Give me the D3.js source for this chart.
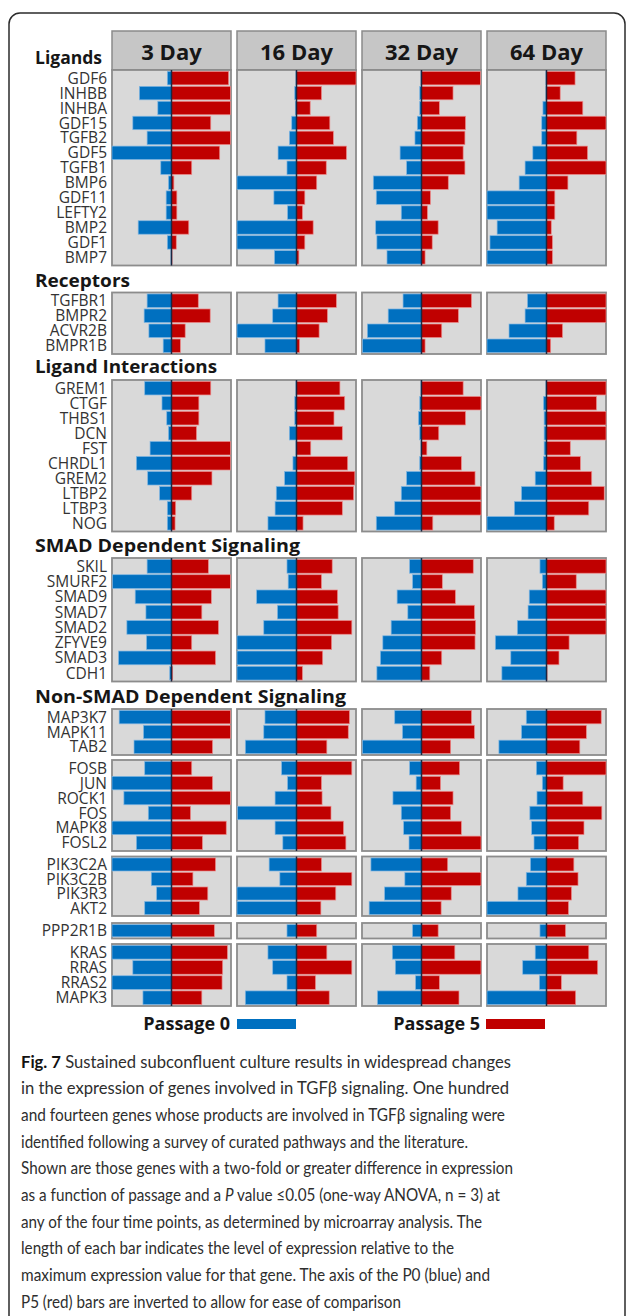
<!DOCTYPE html>
<html>
<head>
<meta charset="utf-8">
<script src="https://cdn.jsdelivr.net/npm/d3@7"></script>
<style>
  html, body { margin: 0; padding: 0; background: #fff; }
  svg { display: block; }
</style>
</head>
<body>
<svg id="chart" width="627" height="1316"></svg>
<script>
// ---- data: relative expression (fraction of the gene's maximum), per time point ----
const days = ["3 Day", "16 Day", "32 Day", "64 Day"];

const ligandGenes = ["GDF6","INHBB","INHBA","GDF15","TGFB2","GDF5","TGFB1","BMP6","GDF11","LEFTY2","BMP2","GDF1","BMP7"];
const ligandP0 = [
  [0.07,0.54,0.23,0.65,0.41,1.00,0.18,0.05,0.09,0.09,0.56,0.07,0.01],
  [0.01,0.03,0.02,0.08,0.12,0.31,0.16,1.00,0.38,0.15,1.00,1.00,0.37],
  [0.01,0.03,0.03,0.07,0.11,0.36,0.25,0.81,0.76,0.34,0.77,0.75,0.58],
  [0.01,0.01,0.06,0.08,0.08,0.23,0.36,0.46,1.00,1.00,0.83,0.95,1.00]
];
const ligandP5 = [
  [0.96,0.99,0.99,0.66,0.99,0.81,0.34,0.04,0.09,0.09,0.29,0.08,0.01],
  [1.00,0.42,0.23,0.56,0.62,0.84,0.50,0.34,0.14,0.10,0.28,0.14,0.04],
  [0.99,0.53,0.30,0.74,0.73,0.70,0.73,0.45,0.15,0.10,0.28,0.18,0.06],
  [0.48,0.23,0.61,1.00,0.51,0.69,1.00,0.36,0.14,0.14,0.08,0.10,0.10]
];

const receptorGenes = ["TGFBR1","BMPR2","ACVR2B","BMPR1B"];
const receptorP0 = [[0.41,0.46,0.38,0.14],[0.31,0.40,1.00,0.53],[0.31,0.56,0.91,0.99],[0.32,0.36,0.63,1.00]];
const receptorP5 = [[0.45,0.65,0.23,0.15],[0.67,0.52,0.38,0.05],[0.84,0.62,0.34,0.06],[1.00,1.00,0.27,0.07]];

const interactionGenes = ["GREM1","CTGF","THBS1","DCN","FST","CHRDL1","GREM2","LTBP2","LTBP3","NOG"];
const interactionP0 = [
  [0.45,0.16,0.08,0.05,0.36,0.59,0.40,0.20,0.07,0.07],
  [0.01,0.03,0.03,0.12,0.01,0.06,0.20,0.34,0.36,0.48],
  [0.01,0.03,0.05,0.03,0.01,0.03,0.25,0.34,0.45,0.76],
  [0.01,0.05,0.04,0.04,0.04,0.05,0.19,0.42,0.54,1.00]
];
const interactionP5 = [
  [0.66,0.46,0.46,0.42,0.99,0.99,0.68,0.34,0.07,0.06],
  [0.73,0.81,0.63,0.77,0.24,0.86,0.98,0.96,0.77,0.11],
  [0.70,1.00,0.74,0.29,0.09,0.67,0.90,1.00,1.00,0.19],
  [1.00,0.84,1.00,1.00,0.40,0.57,0.76,0.97,0.71,0.13]
];

const smadGenes = ["SKIL","SMURF2","SMAD9","SMAD7","SMAD2","ZFYVE9","SMAD3","CDH1"];
const smadP0 = [
  [0.41,0.99,0.61,0.43,0.75,0.42,0.89,0.03],
  [0.16,0.14,0.67,0.32,0.55,1.00,1.00,1.00],
  [0.20,0.15,0.41,0.23,0.51,0.65,0.69,0.75],
  [0.11,0.07,0.29,0.31,0.49,0.86,0.60,0.75]
];
const smadP5 = [
  [0.62,0.99,0.67,0.51,0.79,0.34,0.74,0.02],
  [0.60,0.42,0.69,0.70,0.93,0.59,0.44,0.10],
  [0.87,0.35,0.57,0.89,0.91,0.90,0.34,0.14],
  [1.00,0.50,1.00,1.00,1.00,0.38,0.21,0.01]
];

const kinaseGenes = ["MAP3K7","MAPK11","TAB2"];
const kinaseP0 = [[0.88,0.47,0.63],[0.53,0.55,0.86],[0.45,0.32,0.99],[0.34,0.42,0.80]];
const kinaseP5 = [[0.99,0.99,0.69],[0.89,0.87,0.51],[0.84,0.89,0.49],[0.92,0.67,0.56]];

const ap1Genes = ["FOSB","JUN","ROCK1","FOS","MAPK8","FOSL2"];
const ap1P0 = [
  [0.45,1.00,0.80,0.39,1.00,0.59],
  [0.25,0.15,0.36,0.99,0.36,0.23],
  [0.20,0.09,0.48,0.34,0.30,0.21],
  [0.17,0.07,0.16,0.28,0.25,0.21]
];
const ap1P5 = [
  [0.34,0.69,0.99,0.32,0.92,0.52],
  [0.93,0.42,0.43,0.58,0.79,0.83],
  [0.64,0.32,0.53,0.49,0.67,1.00],
  [1.00,0.28,0.61,0.93,0.63,0.54]
];

const pi3kGenes = ["PIK3C2A","PIK3C2B","PIK3R3","AKT2"];
const pi3kP0 = [[1.00,0.34,0.25,0.45],[0.46,0.28,1.00,1.00],[0.85,0.28,0.62,0.88],[0.27,0.34,0.48,1.00]];
const pi3kP5 = [[0.74,0.36,0.61,0.47],[0.42,0.93,0.66,0.41],[0.44,1.00,0.50,0.33],[0.46,0.53,0.42,0.37]];

const pp2aGenes = ["PPP2R1B"];
const pp2aP0 = [[1.00],[0.16],[0.15],[0.11]];
const pp2aP5 = [[0.72],[0.34],[0.28],[0.32]];

const rasGenes = ["KRAS","RRAS","RRAS2","MAPK3"];
const rasP0 = [[1.00,0.65,1.00,0.48],[0.48,0.40,0.16,0.86],[0.49,0.44,0.10,0.74],[0.19,0.40,0.12,1.00]];
const rasP5 = [[0.94,0.86,0.85,0.51],[0.51,0.93,0.32,0.55],[0.56,1.00,0.30,0.63],[0.71,0.86,0.25,0.49]];

const sectionTitles = ["Ligands","Receptors","Ligand Interactions","SMAD Dependent Signaling","Non-SMAD Dependent Signaling"];
const legendLabels = ["Passage 0","Passage 5"];

const captionLines = [
  [{t:"Fig. 7", b:true},{t:" Sustained subconfluent culture results in widespread changes"}],
  [{t:"in the expression of genes involved in TGFβ signaling. One hundred"}],
  [{t:"and fourteen genes whose products are involved in TGFβ signaling were"}],
  [{t:"identified following a survey of curated pathways and the literature."}],
  [{t:"Shown are those genes with a two-fold or greater difference in expression"}],
  [{t:"as a function of passage and a "},{t:"P", i:true},{t:" value ≤0.05 (one-way ANOVA, n = 3) at"}],
  [{t:"any of the four time points, as determined by microarray analysis. The"}],
  [{t:"length of each bar indicates the level of expression relative to the"}],
  [{t:"maximum expression value for that gene. The axis of the P0 (blue) and"}],
  [{t:"P5 (red) bars are inverted to allow for ease of comparison"}]
];

// ---- layout ----
const blue = "#0070c0", red = "#c00000";
const labelFont = "'Open Sans', sans-serif";

const blocks = [
  {genes: ligandGenes,      p0: ligandP0,      p5: ligandP5,      top: 70,    bottom: 265.5},
  {genes: receptorGenes,    p0: receptorP0,    p5: receptorP5,    top: 292.5, bottom: 354},
  {genes: interactionGenes, p0: interactionP0, p5: interactionP5, top: 380,   bottom: 531.5},
  {genes: smadGenes,        p0: smadP0,        p5: smadP5,        top: 558,   bottom: 681.5},
  {genes: kinaseGenes,      p0: kinaseP0,      p5: kinaseP5,      top: 709,   bottom: 755},
  {genes: ap1Genes,         p0: ap1P0,         p5: ap1P5,         top: 760,   bottom: 851},
  {genes: pi3kGenes,        p0: pi3kP0,        p5: pi3kP5,        top: 856.5, bottom: 916},
  {genes: pp2aGenes,        p0: pp2aP0,        p5: pp2aP5,        top: 923,   bottom: 938.5},
  {genes: rasGenes,         p0: rasP0,         p5: rasP5,         top: 944,   bottom: 1006}
];
const titleBaselines = [63.5, 286.5, 373, 551.5, 703];
const titleWidths = [67, 95, 182, 265, 311];

const svg = d3.select("#chart");

// outer frame (open at the bottom edge of the page)
svg.append("rect")
  .attr("x", 9).attr("y", 13).attr("width", 616).attr("height", 1400)
  .attr("rx", 11).attr("fill", "none").attr("stroke", "#2b2b2b").attr("stroke-width", 1.5);

const xPanel = d3.scaleBand().domain(days).range([112, 606]).paddingInner(0.048).paddingOuter(0);
const bw = xPanel.bandwidth();

// column headers
const hdr = svg.append("g");
days.forEach(d => {
  hdr.append("rect")
    .attr("x", xPanel(d)).attr("y", 31).attr("width", bw).attr("height", 39)
    .attr("fill", "#c6c6c6").attr("stroke", "#8a8a8a").attr("stroke-width", 1.5);
  hdr.append("text")
    .attr("x", xPanel(d) + bw / 2).attr("y", 60)
    .attr("text-anchor", "middle")
    .attr("font-family", labelFont).attr("font-weight", 700).attr("font-size", 22)
    .attr("fill", "#161616").text(d);
});

// section titles
sectionTitles.forEach((t, i) => {
  svg.append("text")
    .attr("x", 35).attr("y", titleBaselines[i])
    .attr("font-family", labelFont).attr("font-weight", 700).attr("font-size", 18)
    .attr("textLength", titleWidths[i]).attr("lengthAdjust", "spacingAndGlyphs")
    .attr("fill", "#161616").text(t);
});

// panels
blocks.forEach(b => {
  const y = d3.scaleBand().domain(b.genes).range([b.top + 1, b.bottom - 1]).paddingInner(0.1).paddingOuter(0.03);
  const g = svg.append("g");

  g.selectAll("text.gene").data(b.genes).join("text")
    .attr("class", "gene")
    .attr("x", 107).attr("y", d => y(d) + y.bandwidth() / 2)
    .attr("dy", "0.36em").attr("text-anchor", "end")
    .attr("font-family", labelFont).attr("font-size", 15.5)
    .attr("fill", "#333").text(d => d);

  days.forEach((day, di) => {
    const x0 = xPanel(day), mid = x0 + bw / 2;
    const xBlue = d3.scaleLinear().domain([0, 1]).range([mid, x0]);
    const xRed = d3.scaleLinear().domain([0, 1]).range([mid, x0 + bw]);
    const p = g.append("g");

    p.append("rect")
      .attr("x", x0).attr("y", b.top).attr("width", bw).attr("height", b.bottom - b.top)
      .attr("fill", "#d9d9d9").attr("stroke", "#8c8c8c").attr("stroke-width", 1.8);

    const rows = b.genes.map((gname, k) => ({gene: gname, p0: b.p0[di][k], p5: b.p5[di][k]}));

    p.selectAll("rect.p0").data(rows).join("rect")
      .attr("class", "p0")
      .attr("x", d => xBlue(d.p0)).attr("y", d => y(d.gene))
      .attr("width", d => xBlue(0) - xBlue(d.p0)).attr("height", y.bandwidth())
      .attr("fill", blue).attr("stroke", "#7fb6e2").attr("stroke-width", 0.7);

    p.selectAll("rect.p5").data(rows).join("rect")
      .attr("class", "p5")
      .attr("x", xRed(0)).attr("y", d => y(d.gene))
      .attr("width", d => xRed(d.p5) - xRed(0)).attr("height", y.bandwidth())
      .attr("fill", red).attr("stroke", "#ec8a8a").attr("stroke-width", 0.7);

    p.append("line")
      .attr("x1", mid).attr("x2", mid).attr("y1", b.top).attr("y2", b.bottom)
      .attr("stroke", "#1c2740").attr("stroke-width", 1.5);
  });
});

// legend
const legend = [
  {label: legendLabels[0], color: blue, textX: 230, boxX: 237},
  {label: legendLabels[1], color: red,  textX: 480, boxX: 486}
];
legend.forEach(l => {
  svg.append("text")
    .attr("x", l.textX).attr("y", 1029.5).attr("text-anchor", "end")
    .attr("font-family", labelFont).attr("font-weight", 700).attr("font-size", 18)
    .attr("fill", "#161616").text(l.label);
  svg.append("rect")
    .attr("x", l.boxX).attr("y", 1019).attr("width", 59).attr("height", 10)
    .attr("fill", l.color);
});

// caption
const capWidths = [490, 488, 484, 447, 492, 479, 461, 433, 469, 380];
const cap = svg.append("g");
captionLines.forEach((parts, i) => {
  const t = cap.append("text")
    .attr("x", 21).attr("y", 1067.7 + i * 26.67)
    .attr("font-family", "Lato, 'Open Sans', sans-serif")
    .attr("font-size", 17.5).attr("fill", "#2e2e2e")
    .attr("textLength", capWidths[i]).attr("lengthAdjust", "spacingAndGlyphs");
  parts.forEach(s => {
    const ts = t.append("tspan").text(s.t);
    if (s.b) ts.attr("font-weight", 700).attr("fill", "#111");
    if (s.i) ts.attr("font-style", "italic");
  });
});
</script>
</body>
</html>
